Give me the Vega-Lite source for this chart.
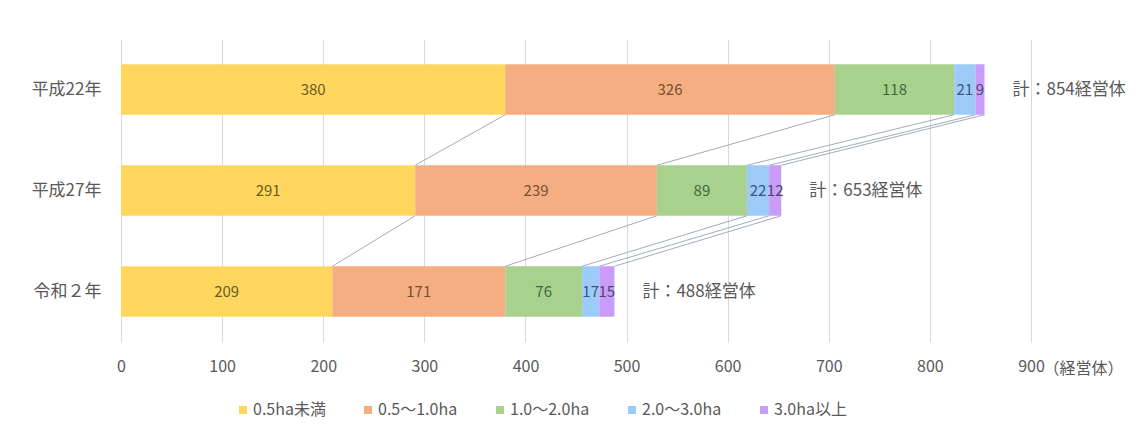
{
  "$schema": "https://vega.github.io/schema/vega-lite/v6.json",
  "width": 910,
  "height": 303,
  "autosize": "none",
  "padding": {"left": 121, "top": 39, "right": 116, "bottom": 95},
  "background": "white",
  "config": {
    "font": "Noto Sans CJK JP",
    "view": {"stroke": null},
    "axis": {"labelColor": "#595959", "titleColor": "#595959", "labelFont": "Noto Sans CJK JP", "titleFont": "Noto Sans CJK JP"}
  },
  "data": {
    "values": [
      {"year": "平成22年", "yi": 0, "cls": "0.5ha未満", "ci": 0, "value": 380},
      {"year": "平成22年", "yi": 0, "cls": "0.5～1.0ha", "ci": 1, "value": 326},
      {"year": "平成22年", "yi": 0, "cls": "1.0～2.0ha", "ci": 2, "value": 118},
      {"year": "平成22年", "yi": 0, "cls": "2.0～3.0ha", "ci": 3, "value": 21},
      {"year": "平成22年", "yi": 0, "cls": "3.0ha以上", "ci": 4, "value": 9},
      {"year": "平成27年", "yi": 1, "cls": "0.5ha未満", "ci": 0, "value": 291},
      {"year": "平成27年", "yi": 1, "cls": "0.5～1.0ha", "ci": 1, "value": 239},
      {"year": "平成27年", "yi": 1, "cls": "1.0～2.0ha", "ci": 2, "value": 89},
      {"year": "平成27年", "yi": 1, "cls": "2.0～3.0ha", "ci": 3, "value": 22},
      {"year": "平成27年", "yi": 1, "cls": "3.0ha以上", "ci": 4, "value": 12},
      {"year": "令和２年", "yi": 2, "cls": "0.5ha未満", "ci": 0, "value": 209},
      {"year": "令和２年", "yi": 2, "cls": "0.5～1.0ha", "ci": 1, "value": 171},
      {"year": "令和２年", "yi": 2, "cls": "1.0～2.0ha", "ci": 2, "value": 76},
      {"year": "令和２年", "yi": 2, "cls": "2.0～3.0ha", "ci": 3, "value": 17},
      {"year": "令和２年", "yi": 2, "cls": "3.0ha以上", "ci": 4, "value": 15}
    ]
  },
  "transform": [
    {"stack": "value", "groupby": ["year"], "sort": [{"field": "ci", "order": "ascending"}], "as": ["x0", "x1"]},
    {"calculate": "(datum.x0 + datum.x1) / 2", "as": "mid"}
  ],
  "layer": [
    {
      "mark": {"type": "bar"},
      "encoding": {
        "y": {
          "field": "year", "type": "nominal",
          "sort": ["平成22年", "平成27年", "令和２年"],
          "scale": {"paddingInner": 0.5, "paddingOuter": 0.25},
          "axis": {"title": null, "domain": false, "ticks": false, "labelFontSize": 17, "labelPadding": 20}
        },
        "x": {
          "field": "x0", "type": "quantitative",
          "scale": {"domain": [0, 900], "nice": false},
          "axis": {
            "values": [0, 100, 200, 300, 400, 500, 600, 700, 800, 900],
            "domain": false, "ticks": false, "gridColor": "#D9D9D9", "gridWidth": 1,
            "labelFontSize": 16, "labelPadding": 16, "labelFlush": false,
            "title": "（経営体）", "titleFontSize": 16, "titleFontWeight": "normal",
            "titleX": 922, "titleY": 26, "titleAlign": "left", "titleAnchor": "start", "titleBaseline": "middle"
          }
        },
        "x2": {"field": "x1"},
        "color": {
          "field": "cls", "type": "nominal",
          "sort": ["0.5ha未満", "0.5～1.0ha", "1.0～2.0ha", "2.0～3.0ha", "3.0ha以上"],
          "scale": {
            "domain": ["0.5ha未満", "0.5～1.0ha", "1.0～2.0ha", "2.0～3.0ha", "3.0ha以上"],
            "range": ["#FFD75F", "#F4AE82", "#A9D18E", "#9DCBF8", "#C99BFA"]
          },
          "legend": {
            "title": null, "orient": "none", "direction": "horizontal",
            "legendX": 114, "legendY": 363, "symbolType": "square", "symbolSize": 64,
            "symbolStrokeWidth": 0, "labelFontSize": 16, "labelColor": "#595959",
            "labelOffset": 2, "columnPadding": 34, "columns": 5
          }
        }
      }
    },
    {
      "transform": [
        {"window": [{"op": "lead", "field": "x1", "as": "nx1"}, {"op": "lead", "field": "year", "as": "nyear"}], "groupby": ["cls"], "sort": [{"field": "yi", "order": "ascending"}]},
        {"filter": "datum.nyear != null"}
      ],
      "mark": {"type": "rule", "color": "#A3ABBB", "strokeWidth": 1},
      "encoding": {
        "x": {"field": "x1", "type": "quantitative"},
        "x2": {"field": "nx1"},
        "y": {"field": "year", "type": "nominal", "sort": ["平成22年", "平成27年", "令和２年"], "bandPosition": 1},
        "y2": {"field": "nyear", "bandPosition": 0}
      }
    },
    {
      "mark": {"type": "text", "fontSize": 15, "baseline": "middle", "align": "center"},
      "encoding": {
        "y": {"field": "year", "type": "nominal", "sort": ["平成22年", "平成27年", "令和２年"]},
        "x": {"field": "mid", "type": "quantitative"},
        "text": {"field": "value", "type": "quantitative"},
        "color": {
          "field": "cls", "type": "nominal",
          "scale": {
            "domain": ["0.5ha未満", "0.5～1.0ha", "1.0～2.0ha", "2.0～3.0ha", "3.0ha以上"],
            "range": ["#6B5A24", "#7A4E33", "#3F6A3A", "#3B5780", "#4A4A6A"]
          },
          "legend": null
        }
      }
    },
    {
      "transform": [
        {"aggregate": [{"op": "sum", "field": "value", "as": "total"}], "groupby": ["year"]},
        {"calculate": "'計：' + datum.total + '経営体'", "as": "label"}
      ],
      "mark": {"type": "text", "fontSize": 17, "align": "left", "baseline": "middle", "dx": 28, "color": "#595959"},
      "encoding": {
        "y": {"field": "year", "type": "nominal", "sort": ["平成22年", "平成27年", "令和２年"]},
        "x": {"field": "total", "type": "quantitative"},
        "text": {"field": "label", "type": "nominal"}
      }
    }
  ],
  "resolve": {"scale": {"color": "independent"}}
}
